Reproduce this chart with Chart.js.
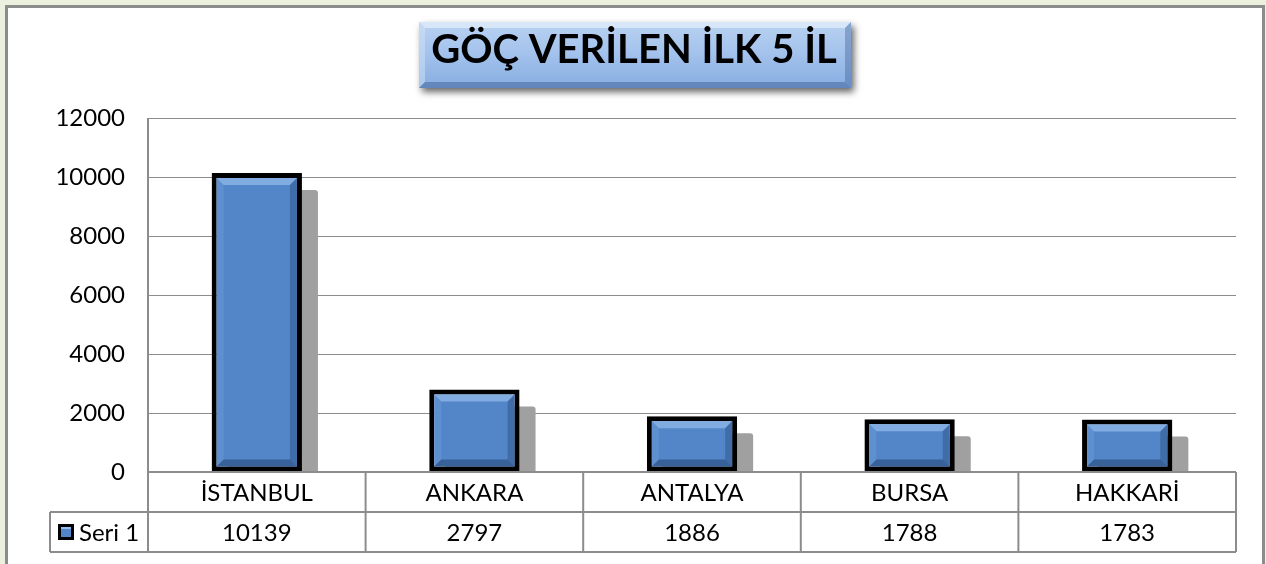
<!DOCTYPE html>
<html>
<head>
<meta charset="utf-8">
<title>Göç verilen ilk 5 il</title>
<script src="https://cdn.jsdelivr.net/npm/chart.js@4.4.1/dist/chart.umd.min.js"></script>
<style>
  html, body { margin: 0; padding: 0; width: 1266px; height: 564px; overflow: hidden; background: #ebf1de; }
  #frame { position: absolute; left: 5px; top: 5px; width: 1260px; height: 620px; box-sizing: border-box;
           background: #fff; border: 3px solid #8c8c8c; border-bottom: none; }
  #chart { position: absolute; left: 0; top: 0; }
</style>
</head>
<body>
<div id="frame"></div>
<canvas id="chart" width="1266" height="564"></canvas>
<script>
const chartTitle = 'GÖÇ VERİLEN İLK 5 İL';
const categories = ['İSTANBUL', 'ANKARA', 'ANTALYA', 'BURSA', 'HAKKARİ'];
const seriesName = 'Seri 1';
const values = [10139, 2797, 1886, 1788, 1783];
const yMin = 0;
const yMax = 12000;
const yStep = 2000;

const FONT = 'Lato, "Open Sans", sans-serif';
const lineGray = '#8c8c8c';

function poly(ctx, pts, color) {
    ctx.beginPath();
    ctx.moveTo(pts[0][0], pts[0][1]);
    for (let i = 1; i < pts.length; i++) ctx.lineTo(pts[i][0], pts[i][1]);
    ctx.closePath();
    ctx.fillStyle = color;
    ctx.fill();
}

// bevel on a rectangle, light top/left, dark bottom/right
function bevel(ctx, l, t, r, b, size, c) {
    const s = Math.min(size, (b - t) / 2, (r - l) / 2);
    poly(ctx, [[l, t], [r, t], [r - s, t + s], [l + s, t + s]], c.top);
    poly(ctx, [[l, t], [l + s, t + s], [l + s, b - s], [l, b]], c.left);
    poly(ctx, [[r, t], [r, b], [r - s, b - s], [r - s, t + s]], c.right);
    poly(ctx, [[l, b], [r, b], [r - s, b - s], [l + s, b - s]], c.bottom);
}

const barDecor = {
    id: 'barDecor',
    beforeDatasetsDraw(chart) {
        const ctx = chart.ctx;
        const base = chart.scales.y.getPixelForValue(0);
        ctx.save();
        ctx.fillStyle = '#a0a0a0';
        chart.getDatasetMeta(0).data.forEach(bar => {
            const p = bar.getProps(['x', 'y', 'width']);
            const l = p.x - p.width / 2 + 16;
            const t = p.y + 17;
            if (t < base) {
                ctx.beginPath();
                ctx.roundRect(l, t, p.width, base - t, [3, 3, 0, 0]);
                ctx.fill();
            }
        });
        ctx.restore();
    },
    afterDatasetsDraw(chart) {
        const ctx = chart.ctx;
        const bw = 5;
        ctx.save();
        chart.getDatasetMeta(0).data.forEach(bar => {
            const p = bar.getProps(['x', 'y', 'base', 'width']);
            bevel(ctx, p.x - p.width / 2 + bw, p.y + bw, p.x + p.width / 2 - bw, p.base - bw, 7, {
                top: 'rgba(160,198,242,0.6)',
                left: 'rgba(120,165,225,0.3)',
                right: 'rgba(30,60,110,0.35)',
                bottom: 'rgba(25,50,95,0.45)'
            });
        });
        ctx.restore();
    }
};

const titleAndTable = {
    id: 'titleAndTable',
    afterDraw(chart) {
        const ctx = chart.ctx;
        const x = chart.scales.x;
        const area = chart.chartArea;

        // title box
        const bx = 419, by = 22, bwid = 432, bh = 66;
        ctx.save();
        ctx.shadowColor = 'rgba(0,0,0,0.6)';
        ctx.shadowBlur = 7;
        ctx.shadowOffsetX = 3;
        ctx.shadowOffsetY = 4;
        const g = ctx.createLinearGradient(0, by, 0, by + bh);
        g.addColorStop(0, '#b9d2f1');
        g.addColorStop(0.5, '#a2c1ec');
        g.addColorStop(1, '#86ade0');
        ctx.fillStyle = g;
        ctx.fillRect(bx, by, bwid, bh);
        ctx.restore();
        ctx.save();
        bevel(ctx, bx, by, bx + bwid, by + bh, 6, {
            top: 'rgba(230,240,252,0.7)',
            left: 'rgba(210,228,248,0.5)',
            right: 'rgba(60,95,150,0.4)',
            bottom: 'rgba(60,95,150,0.5)'
        });
        ctx.fillStyle = '#000';
        ctx.font = 'bold 40px ' + FONT;
        ctx.textAlign = 'center';
        ctx.textBaseline = 'alphabetic';
        ctx.fillText(chartTitle, bx + bwid / 2 - 1, 63);
        ctx.restore();

        // data table
        const rowH = 40;
        const y0 = area.bottom, y1 = y0 + rowH, y2 = y1 + rowH;
        const legendLeft = 50;
        const edges = [];
        for (let i = 0; i < categories.length; i++) {
            edges.push(x.getPixelForValue(i) - (area.right - area.left) / categories.length / 2);
        }
        edges.push(area.right);

        ctx.save();
        ctx.strokeStyle = lineGray;
        ctx.lineWidth = 2;
        ctx.beginPath();
        // axis line and table frame
        ctx.moveTo(area.left, area.top); ctx.lineTo(area.left, y2);
        ctx.moveTo(area.left, y0); ctx.lineTo(area.right, y0);
        ctx.moveTo(legendLeft, y1); ctx.lineTo(area.right, y1);
        ctx.moveTo(legendLeft, y2); ctx.lineTo(area.right, y2);
        ctx.moveTo(legendLeft, y1); ctx.lineTo(legendLeft, y2);
        edges.slice(1).forEach(e => { ctx.moveTo(e, y0); ctx.lineTo(e, y2); });
        ctx.stroke();

        ctx.fillStyle = '#000';
        ctx.font = '24px ' + FONT;
        ctx.textAlign = 'center';
        ctx.textBaseline = 'middle';
        categories.forEach((c, i) => {
            const cx = x.getPixelForValue(i);
            ctx.fillText(c, cx, y0 + rowH / 2 + 1);
            ctx.fillText(String(values[i]), cx, y1 + rowH / 2 + 1);
        });

        // legend key
        const kx = 58, ky = y1 + 12, ks = 16;
        ctx.fillStyle = '#000';
        ctx.fillRect(kx, ky, ks, ks);
        ctx.fillStyle = '#5386c8';
        ctx.fillRect(kx + 3, ky + 3, ks - 6, ks - 6);
        ctx.fillStyle = 'rgba(170,205,245,0.8)';
        ctx.fillRect(kx + 3, ky + 3, ks - 6, 2);
        ctx.fillStyle = '#000';
        ctx.textAlign = 'left';
        ctx.fillText(seriesName, kx + ks + 5, y1 + rowH / 2 + 1);
        ctx.restore();
    }
};

new Chart(document.getElementById('chart'), {
    type: 'bar',
    data: {
        labels: categories,
        datasets: [{
            label: seriesName,
            data: values,
            backgroundColor: '#5386c8',
            borderColor: '#000',
            borderWidth: 5,
            borderSkipped: false,
            categoryPercentage: 1,
            barPercentage: 0.415
        }]
    },
    options: {
        responsive: false,
        animation: false,
        devicePixelRatio: 1,
        layout: { padding: { top: 118, right: 30, bottom: 92, left: 0 } },
        plugins: {
            legend: { display: false },
            title: { display: false },
            tooltip: { enabled: false }
        },
        scales: {
            x: { display: false },
            y: {
                min: yMin,
                max: yMax,
                ticks: {
                    stepSize: yStep,
                    color: '#000',
                    padding: 23,
                    font: { family: FONT, size: 24 },
                    callback: v => String(v)
                },
                grid: { color: lineGray, lineWidth: 1, drawTicks: false },
                border: { display: false },
                afterFit(scale) { scale.width = 148; }
            }
        }
    },
    plugins: [barDecor, titleAndTable]
});
</script>
</body>
</html>
